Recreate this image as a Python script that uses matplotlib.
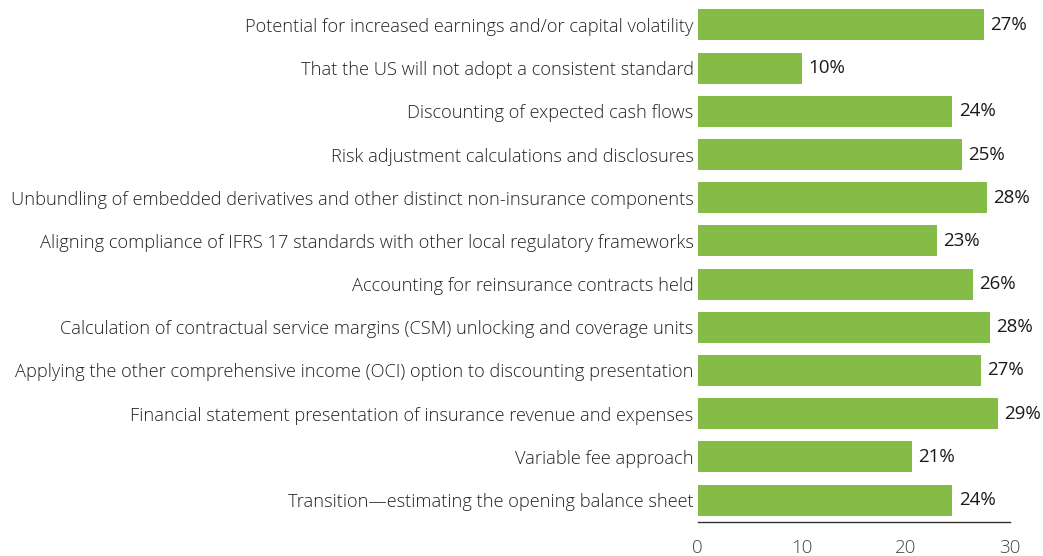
import matplotlib.pyplot as plt

plt.rcParams['font.family'] = ['Open Sans', 'DejaVu Sans']

# Survey responses (share of respondents), top to bottom
categories = [
    'Potential for increased earnings and/or capital volatility',
    'That the US will not adopt a consistent standard',
    'Discounting of expected cash flows',
    'Risk adjustment calculations and disclosures',
    'Unbundling of embedded derivatives and other distinct non-insurance components',
    'Aligning compliance of IFRS 17 standards with other local regulatory frameworks',
    'Accounting for reinsurance contracts held',
    'Calculation of contractual service margins (CSM) unlocking and coverage units',
    'Applying the other comprehensive income (OCI) option to discounting presentation',
    'Financial statement presentation of insurance revenue and expenses',
    'Variable fee approach',
    'Transition\u2014estimating the opening balance sheet',
]
values = [27.5, 10.0, 24.5, 25.4, 27.8, 23.0, 26.5, 28.1, 27.2, 28.9, 20.6, 24.5]
value_labels = ['27%', '10%', '24%', '25%', '28%', '23%', '26%', '28%', '27%', '29%', '21%', '24%']

fig = plt.figure(figsize=(10.43, 5.56), dpi=100)
ax = fig.add_axes([0.669, 0.061, 0.299, 0.933])

ypos = range(len(categories))
ax.barh(ypos, values, height=0.72, color='#84bc47')
for y, v, lab in zip(ypos, values, value_labels):
    ax.text(v + 0.6, y, lab, va='center', ha='left', fontsize=13.5, color='#1a1a1a')

ax.set_yticks(list(ypos))
ax.set_yticklabels(categories, fontsize=13.15, color='#222222', fontweight='light')
ax.set_ylim(11.51, -0.5)
ax.set_xlim(0, 30)
ax.set_xticks([0, 10, 20, 30])
ax.set_xticklabels(['0', '10', '20', '30'], fontweight='light')
ax.tick_params(axis='x', length=0, pad=12, labelsize=13.5, labelcolor='#444444')
ax.tick_params(axis='y', length=0, pad=3)
for side in ['top', 'right', 'left']:
    ax.spines[side].set_visible(False)
ax.spines['bottom'].set_color('#333333')
ax.spines['bottom'].set_linewidth(1.0)

fig.savefig('out.png', dpi=100)
